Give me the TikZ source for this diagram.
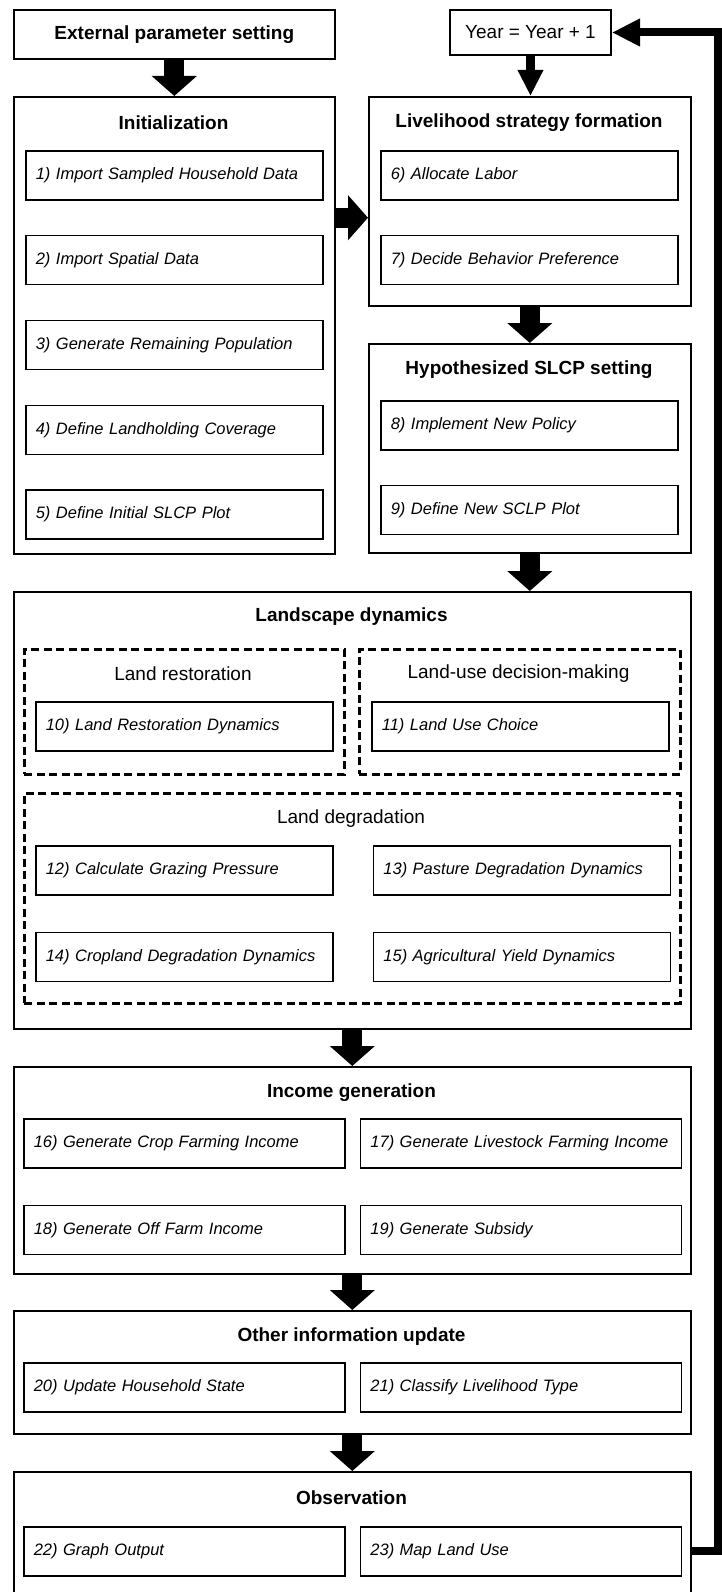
\documentclass[tikz,border=0pt]{standalone}
\usepackage{fontspec}
\setmainfont{Liberation Sans}
\usetikzlibrary{arrows.meta,positioning,calc}
\tikzset{
    stage/.style={draw,rectangle,line width=1.6pt,inner sep=0pt,anchor=north west},
    stagetitle/.style={font=\bfseries\fontsize{19}{22}\selectfont},
    group/.style={draw,rectangle,dash pattern=on 8pt off 4.5pt,line width=2.6pt,inner sep=0pt,anchor=north west},
    grouptitle/.style={font=\fontsize{19}{22}\selectfont},
    task/.style={draw,rectangle,line width=1.6pt,anchor=north west,minimum height=49pt,inner xsep=10pt,text width=277pt,align=left,font=\itshape\fontsize{16.5}{19}\selectfont},
    widetask/.style={task,text width=301pt},
    bigarrow/.style={line width=20pt,-{Triangle[width=44pt,length=20pt]}},
    thinarrow/.style={line width=9pt,-{Triangle[width=24pt,length=26pt]}},
}
\begin{document}
\begin{tikzpicture}[x=1pt,y=-1pt]
    \useasboundingbox (0,0) rectangle (722,1592);
    % top row
    \node[stage,stagetitle,minimum width=321pt,minimum height=49pt] (ext) at (13,9) {External parameter setting};
    \node[stage,grouptitle,minimum width=161pt,minimum height=45pt,line width=2pt] (year) at (449,9) {Year = Year + 1};

    % initialization
    \node[stage,minimum width=321pt,minimum height=457pt] (init) at (13,96) {};
    \node[stagetitle] (tinit) at (173.5,123) {Initialization};
    \node[task] (i1) at (25,150) {1) Import Sampled Household Data};
    \node[task,below=34.25pt of i1] (i2) {2) Import Spatial Data};
    \node[task,below=34.25pt of i2] (i3) {3) Generate Remaining Population};
    \node[task,below=34.25pt of i3] (i4) {4) Define Landholding Coverage};
    \node[task,below=34.25pt of i4] (i5) {5) Define Initial SLCP Plot};

    % livelihood strategy
    \node[stage,minimum width=322pt,minimum height=209pt] (live) at (368,96) {};
    \node[stagetitle] (tlive) at (529,123) {Livelihood strategy formation};
    \node[task] (i6) at (380,150) {6) Allocate Labor};
    \node[task,below=34pt of i6] (i7) {7) Decide Behavior Preference};

    % hypothesized SLCP
    \node[stage,minimum width=322pt,minimum height=209pt] (hyp) at (368,343) {};
    \node[stagetitle] (thyp) at (529,370) {Hypothesized SLCP setting};
    \node[task] (i8) at (380,400) {8) Implement New Policy};
    \node[task,below=34pt of i8] (i9) {9) Define New SCLP Plot};

    % landscape dynamics
    \node[stage,minimum width=677pt,minimum height=437pt] (land) at (13,591) {};
    \node[stagetitle] (tland) at (351.5,617) {Landscape dynamics};
    \node[group,minimum width=320pt,minimum height=125pt] (restore) at (23,648) {};
    \node[grouptitle] (trestore) at (183,674) {Land restoration};
    \node[group,minimum width=321pt,minimum height=125pt] (choice) at (358,648) {};
    \node[grouptitle] (tchoice) at (518.5,674) {Land-use decision-making};
    \node[task] (i10) at (35,701) {10) Land Restoration Dynamics};
    \node[task] (i11) at (371,701) {11) Land Use Choice};
    \node[group,minimum width=656pt,minimum height=210pt] (degrade) at (23,792) {};
    \node[grouptitle] (tdegrade) at (351,819) {Land degradation};
    \node[task] (i12) at (35,845) {12) Calculate Grazing Pressure};
    \node[task,right=39pt of i12] (i13) {13) Pasture Degradation Dynamics};
    \node[task,below=36pt of i12] (i14) {14) Cropland Degradation Dynamics};
    \node[task,below=36pt of i13] (i15) {15) Agricultural Yield Dynamics};

    % income generation
    \node[stage,minimum width=677pt,minimum height=207pt] (income) at (13,1066) {};
    \node[stagetitle] (tincome) at (351.5,1093) {Income generation};
    \node[widetask] (i16) at (23,1118) {16) Generate Crop Farming Income};
    \node[widetask,right=14pt of i16] (i17) {17) Generate Livestock Farming Income};
    \node[widetask,below=36pt of i16] (i18) {18) Generate Off Farm Income};
    \node[widetask,below=36pt of i17] (i19) {19) Generate Subsidy};

    % other information
    \node[stage,minimum width=677pt,minimum height=123pt] (other) at (13,1310) {};
    \node[stagetitle] (tother) at (351.5,1337) {Other information update};
    \node[widetask] (i20) at (23,1362) {20) Update Household State};
    \node[widetask,right=14pt of i20] (i21) {21) Classify Livelihood Type};

    % observation
    \node[stage,minimum width=677pt,minimum height=125pt] (obs) at (13,1471) {};
    \node[stagetitle] (tobs) at (351.5,1498) {Observation};
    \node[widetask] (i22) at (23,1526) {22) Graph Output};
    \node[widetask,right=14pt of i22] (i23) {23) Map Land Use};

    % arrows
    \coordinate (mid) at ($(i1.south)!.5!(i2.north)$);
    \coordinate (loop) at (718,0);
    \draw[bigarrow] (ext) -- (init);
    \draw[thinarrow] (year.south) -- (year.south |- live.north);
    \draw[bigarrow] (init.east |- mid) -- (live.west |- mid);
    \draw[bigarrow] (live) -- (hyp);
    \draw[bigarrow] (hyp.south) -- (hyp.south |- land.north);
    \draw[bigarrow] (land) -- (income);
    \draw[bigarrow] (income) -- (other);
    \draw[bigarrow] (other) -- (obs);
    \draw[line width=8pt,-{Triangle[width=26pt,length=28pt]}] (obs.east |- i23.east) -| (loop |- year.east) -- (year.east);
\end{tikzpicture}
\end{document}
